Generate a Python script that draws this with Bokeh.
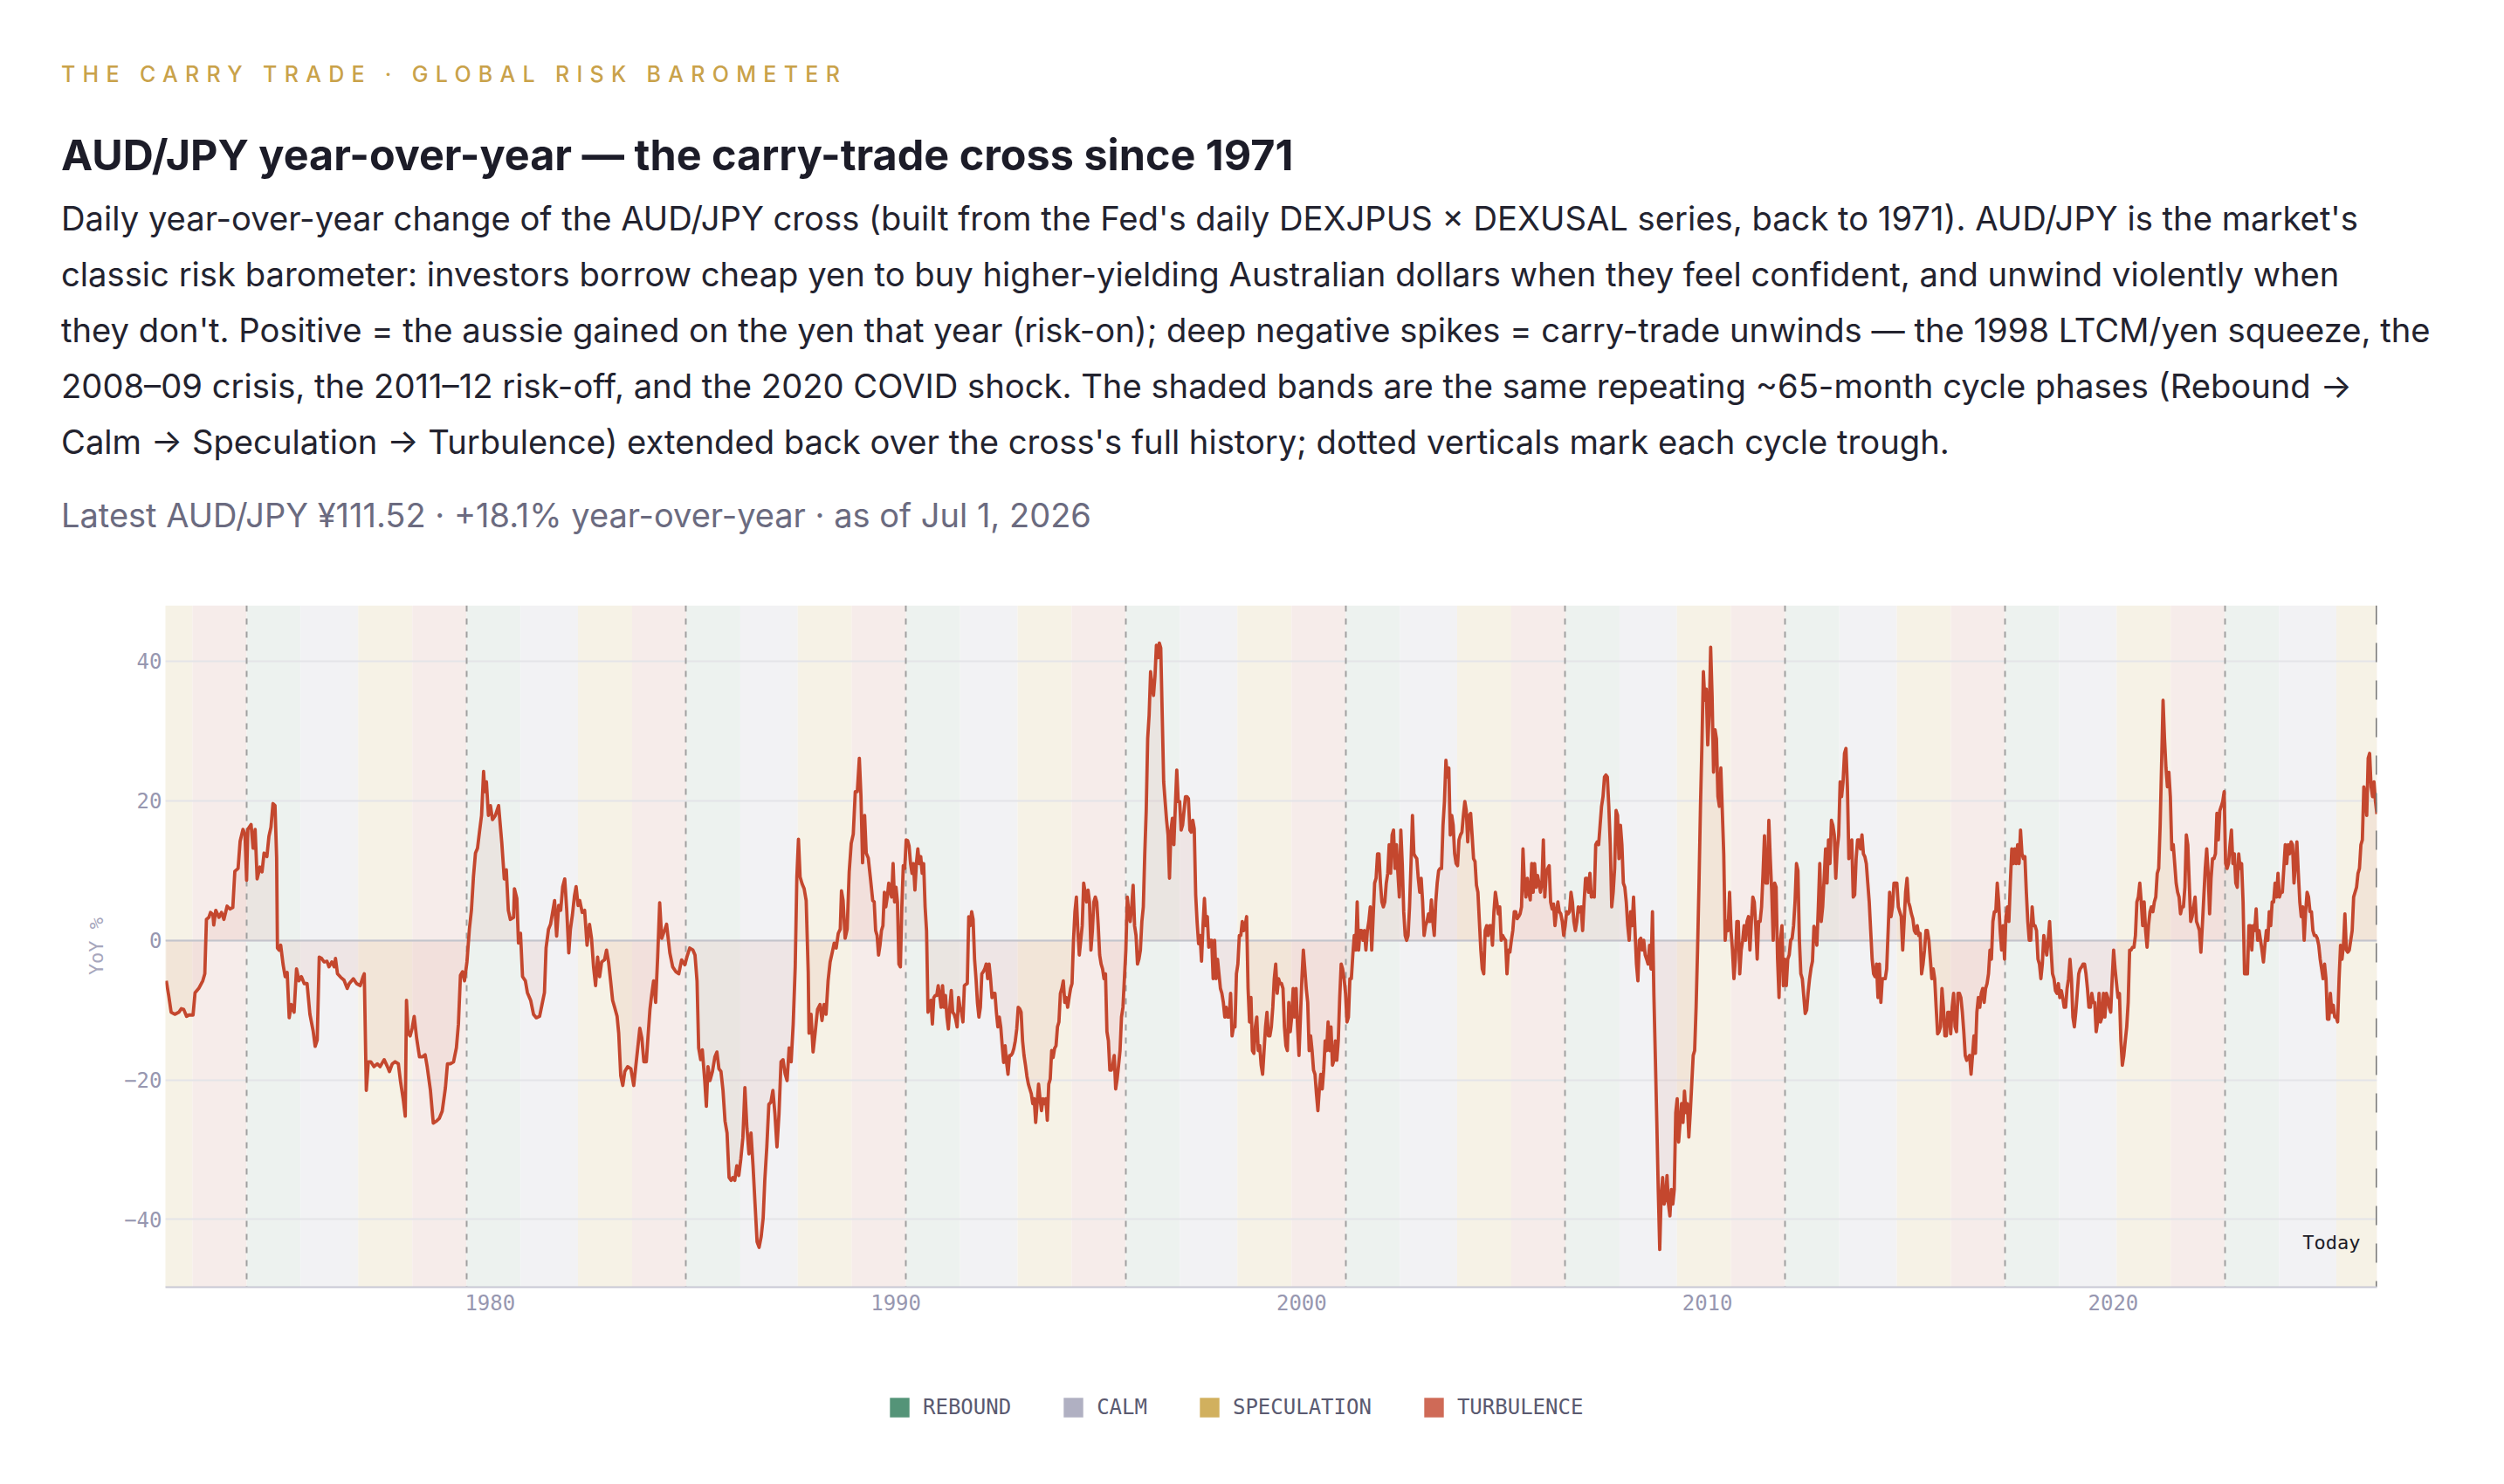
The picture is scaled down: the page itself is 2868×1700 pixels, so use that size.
import numpy as np
from bokeh.plotting import figure
from bokeh.models import (Range1d, FixedTicker, Label, Legend, LegendItem, Div,
                          ColumnDataSource, CustomJSTickFormatter)
from bokeh.layouts import column
from bokeh.embed import file_html
from bokeh.resources import INLINE

# ---------------------------------------------------------------- texts
EYEBROW = "THE CARRY TRADE · GLOBAL RISK BAROMETER"
TITLE = "AUD/JPY year-over-year — the carry-trade cross since 1971"
DESC_LINES = [
    "Daily year-over-year change of the AUD/JPY cross (built from the Fed's daily DEXJPUS × DEXUSAL series, back to 1971). AUD/JPY is the market's",
    "classic risk barometer: investors borrow cheap yen to buy higher-yielding Australian dollars when they feel confident, and unwind violently when",
    "they don't. Positive = the aussie gained on the yen that year (risk-on); deep negative spikes = carry-trade unwinds — the 1998 LTCM/yen squeeze, the",
    "2008–09 crisis, the 2011–12 risk-off, and the 2020 COVID shock. The shaded bands are the same repeating ~65-month cycle phases (Rebound →",
    "Calm → Speculation → Turbulence) extended back over the cross's full history; dotted verticals mark each cycle trough.",
]
LATEST = "Latest AUD/JPY ¥111.52 · +18.1% year-over-year · as of Jul 1, 2026"
Y_LABEL = "YoY %"
TODAY_LABEL = "Today"

# ---------------------------------------------------------------- axes / cycle data
X_TICKS = [1980, 1990, 2000, 2010, 2020]
Y_TICKS = [-40, -20, 0, 20, 40]
X_START, TODAY = 1972.0, 2026.5
Y_LO, Y_HI = -49.7, 48.0

TROUGH_MONTHS = ["1974-01", "1979-06", "1984-11", "1990-04", "1995-09",
                 "2001-02", "2006-07", "2011-12", "2017-05", "2022-10"]
PHASES = ["Rebound", "Calm", "Speculation", "Turbulence"]
PHASE_MONTHS = [16, 17, 16, 16]
PHASE_COLORS = ["#549478", "#b0b0c2", "#d1b05e", "#cf6a57"]
BAND_COLORS = ["#edf2ef", "#f2f2f4", "#f6f2e6", "#f6ecea"]

# ---------------------------------------------------------------- YoY series
# 1972 - 1989: irregularly read points (decimal year, YoY %)
SEG_A_YEARS = [
    1972.02, 1972.08, 1972.14, 1972.23, 1972.33, 1972.39, 1972.45, 1972.52, 1972.58, 1972.68,
    1972.73, 1972.82, 1972.92, 1972.97, 1973.01, 1973.07, 1973.11, 1973.17, 1973.19, 1973.24,
    1973.32, 1973.38, 1973.44, 1973.52, 1973.59, 1973.66, 1973.71, 1973.79, 1973.84, 1973.91,
    1973.96, 1974.00, 1974.03, 1974.11, 1974.16, 1974.21, 1974.26, 1974.33, 1974.38, 1974.43,
    1974.50, 1974.55, 1974.60, 1974.65, 1974.70, 1974.74, 1974.76, 1974.80, 1974.84, 1974.90,
    1974.95, 1975.00, 1975.05, 1975.10, 1975.17, 1975.23, 1975.29, 1975.35, 1975.42, 1975.49,
    1975.56, 1975.64, 1975.69, 1975.74, 1975.79, 1975.85, 1975.91, 1975.98, 1976.03, 1976.10,
    1976.16, 1976.19, 1976.24, 1976.32, 1976.40, 1976.48, 1976.53, 1976.63, 1976.71, 1976.80,
    1976.87, 1976.90, 1976.95, 1977.00, 1977.06, 1977.14, 1977.22, 1977.29, 1977.39, 1977.47,
    1977.52, 1977.59, 1977.66, 1977.74, 1977.79, 1977.86, 1977.91, 1977.94, 1977.98, 1978.03,
    1978.08, 1978.13, 1978.19, 1978.26, 1978.33, 1978.40, 1978.45, 1978.53, 1978.60, 1978.68,
    1978.75, 1978.82, 1978.90, 1978.95, 1979.02, 1979.10, 1979.17, 1979.22, 1979.27, 1979.32,
    1979.37, 1979.43, 1979.49, 1979.54, 1979.59, 1979.64, 1979.69, 1979.74, 1979.79, 1979.84,
    1979.87, 1979.91, 1979.96, 1980.01, 1980.06, 1980.13, 1980.21, 1980.29, 1980.35, 1980.40,
    1980.45, 1980.50, 1980.58, 1980.60, 1980.66, 1980.70, 1980.75, 1980.80, 1980.87, 1980.92,
    1981.00, 1981.07, 1981.14, 1981.22, 1981.28, 1981.34, 1981.38, 1981.44, 1981.49, 1981.54,
    1981.59, 1981.64, 1981.69, 1981.74, 1981.79, 1981.84, 1981.89, 1981.94, 1981.98, 1982.03,
    1982.08, 1982.12, 1982.17, 1982.21, 1982.27, 1982.33, 1982.39, 1982.45, 1982.50, 1982.55,
    1982.60, 1982.65, 1982.70, 1982.75, 1982.82, 1982.87, 1982.92, 1982.97, 1983.02, 1983.07,
    1983.13, 1983.17, 1983.22, 1983.27, 1983.32, 1983.39, 1983.47, 1983.54, 1983.59, 1983.64,
    1983.69, 1983.74, 1983.79, 1983.85, 1983.89, 1983.94, 1983.98, 1984.03, 1984.08, 1984.13,
    1984.18, 1984.23, 1984.31, 1984.35, 1984.43, 1984.50, 1984.58, 1984.65, 1984.72, 1984.80,
    1984.85, 1984.92, 1985.00, 1985.05, 1985.10, 1985.14, 1985.19, 1985.23, 1985.29, 1985.33,
    1985.37, 1985.42, 1985.48, 1985.54, 1985.59, 1985.64, 1985.69, 1985.74, 1985.79, 1985.84,
    1985.89, 1985.94, 1985.98, 1986.03, 1986.08, 1986.13, 1986.18, 1986.23, 1986.28, 1986.33,
    1986.38, 1986.43, 1986.48, 1986.53, 1986.58, 1986.63, 1986.68, 1986.73, 1986.77, 1986.82,
    1986.87, 1986.92, 1986.97, 1987.02, 1987.07, 1987.12, 1987.17, 1987.22, 1987.27, 1987.32,
    1987.37, 1987.42, 1987.47, 1987.52, 1987.56, 1987.60, 1987.64, 1987.69, 1987.74, 1987.79,
    1987.84, 1987.86, 1987.91, 1987.96, 1988.01, 1988.07, 1988.13, 1988.18, 1988.23, 1988.28,
    1988.33, 1988.38, 1988.43, 1988.48, 1988.53, 1988.58, 1988.63, 1988.66, 1988.70, 1988.75,
    1988.80, 1988.85, 1988.90, 1988.95, 1989.00, 1989.05, 1989.10, 1989.14, 1989.18, 1989.23,
    1989.27, 1989.32, 1989.37, 1989.43,
]
SEG_A_YOY = [
    -5.8, -7.9, -10.3, -10.6, -10.3, -9.8, -9.9, -10.9, -10.7, -10.7,
    -7.5, -6.9, -5.8, -4.8, 3.0, 3.3, 4.0, 3.7, 2.2, 4.3,
    3.3, 4.0, 3.0, 4.9, 4.5, 4.7, 9.9, 10.3, 14.2, 15.9,
    15.2, 8.6, 15.9, 16.6, 13.2, 15.9, 8.8, 10.5, 9.8, 12.5,
    12.0, 14.9, 16.2, 19.6, 19.3, 11.8, -1.1, -1.4, -0.7, -3.5,
    -5.2, -4.6, -11.1, -9.2, -10.3, -4.1, -5.8, -5.2, -6.2, -6.2,
    -10.6, -13.0, -15.2, -14.3, -2.4, -2.6, -3.1, -3.0, -3.8, -3.1,
    -3.8, -2.6, -4.8, -5.3, -5.7, -6.9, -6.2, -5.5, -6.2, -6.5,
    -5.2, -4.8, -21.5, -17.4, -17.4, -18.1, -17.7, -18.1, -17.1, -18.1,
    -18.8, -17.7, -17.4, -17.7, -20.1, -22.8, -25.2, -8.6, -13.3, -13.7,
    -12.6, -10.9, -14.0, -16.7, -16.7, -16.4, -18.1, -21.5, -26.2, -25.9,
    -25.5, -24.5, -21.1, -17.7, -17.7, -17.4, -15.4, -12.0, -5.0, -4.5,
    -5.8, -3.1, 1.6, 4.3, 9.1, 12.5, 13.2, 15.6, 17.9, 24.2,
    21.3, 22.7, 17.9, 19.3, 17.3, 17.9, 19.3, 13.9, 8.8, 10.1,
    4.3, 3.0, 3.3, 7.4, 6.0, -0.4, 1.0, -5.2, -5.8, -7.5,
    -8.6, -10.6, -11.1, -10.9, -9.2, -7.5, -1.1, 1.6, 2.3, 4.0,
    5.7, 0.6, 5.0, 4.3, 7.7, 8.8, 4.3, -1.8, 1.6, 3.7,
    6.4, 7.7, 5.0, 5.7, 4.0, 4.3, -0.7, 2.3, 0.3, -3.8,
    -6.5, -2.4, -5.2, -3.1, -2.8, -1.4, -3.1, -5.8, -8.6, -9.6,
    -10.9, -13.3, -19.4, -20.8, -18.8, -18.1, -18.4, -20.8, -18.1, -15.4,
    -12.6, -14.0, -17.4, -17.4, -14.0, -9.9, -7.9, -5.8, -8.9, -2.4,
    5.4, 0.3, 1.6, 2.3, -1.8, -3.8, -4.5, -4.8, -2.8, -3.5,
    -2.4, -1.1, -1.4, -2.1, -5.8, -15.4, -17.1, -15.7, -20.1, -23.8,
    -18.1, -20.1, -18.8, -16.7, -16.0, -18.4, -18.8, -21.5, -25.9, -27.6,
    -34.0, -34.4, -34.0, -34.4, -32.3, -33.7, -31.3, -28.3, -21.1, -26.9,
    -30.6, -27.6, -32.3, -37.8, -43.2, -44.0, -42.5, -39.8, -34.4, -29.6,
    -23.5, -23.2, -21.5, -24.9, -29.6, -24.9, -17.4, -17.1, -19.1, -20.1,
    -15.4, -17.4, -12.0, -3.8, 9.1, 14.5, 9.1, 8.1, 7.4, 5.7,
    -4.5, -13.3, -10.6, -16.0, -13.3, -9.9, -9.2, -11.5, -9.2, -10.6,
    -5.8, -3.1, -1.8, -0.4, -1.1, 1.0, 1.6, 7.1, 5.7, 0.3,
    1.6, 9.8, 13.9, 15.2, 21.3, 21.3, 26.1, 20.7, 11.1, 17.9,
    12.5, 11.8, 9.1, 5.7,
]

# 1989.5 onwards: readings taken every ~13 days (0.03585 yr) from each segment start
READ_STEP_YEARS = 0.03585
SEG_B_START = 1989.466
SEG_B_YOY = [
    5.5, 1.4, 0.7, -2.1, -0.7, 1.4, 2.1, 6.9, 4.8, 6.2,
    8.2, 6.9, 6.2, 11.0, 5.5, 7.6, 5.5, -3.4, -3.8, 4.8,
    10.7, 10.3, 14.4, 14.3, 13.5, 11.0, 9.6, 11.0, 7.2, 11.0,
    13.1, 11.0, 12.0, 9.6, 11.0, 4.8, 1.4, -10.3, -9.6, -8.6,
    -12.0, -8.2, -7.9, -7.9, -6.5, -7.9, -9.6, -6.5, -9.6, -7.9,
    -11.0, -12.7, -9.6, -7.2, -10.3, -10.6, -11.3, -12.4, -8.2, -9.6,
    -10.3, -11.7, -6.5, -6.3, -6.2, 3.4, 2.1, 4.1, 3.0, -2.7,
    -5.5, -9.0, -11.0, -9.6, -4.8, -4.5, -4.1, -3.4, -5.5, -3.4,
    -5.5, -8.2, -7.6, -7.6, -10.3, -12.4, -11.0, -12.4, -15.1, -17.5,
    -15.1, -17.5, -19.2, -16.5, -16.5, -16.2, -15.5, -14.4, -12.7, -9.6,
    -9.8, -10.3, -14.4, -16.5, -17.9, -19.5, -20.6, -21.3, -22.0, -23.4,
    -22.7, -26.1, -23.4, -20.6, -22.7, -24.4, -22.7, -23.4, -22.7, -25.8,
    -20.6, -19.9, -15.8, -16.8, -15.5, -15.1, -12.4, -11.7, -7.6, -6.9,
    -5.8, -8.9, -8.2, -9.6, -8.2, -6.9, -6.2, 0.0, 4.1, 6.2,
    1.4, -2.1, 0.0, 2.1, 8.2, 6.9, 5.5, 7.2, 5.5, -1.4,
    1.4, 5.5, 6.2, 5.5, 2.1, -2.1, -3.4, -4.1, -5.5, -4.8,
    -13.1, -14.4, -18.6, -18.6, -17.9, -16.5, -21.3, -19.9, -17.9, -15.8,
    -11.0, -9.6, -5.5, -1.4, 6.2, 4.1, 2.7, 4.8, 7.9, 2.1,
    0.7, -3.4, -2.7, -1.4, 2.7, 4.8, 12.4, 18.6, 28.9, 32.3,
    38.5, 36.4, 35.1, 37.8, 42.3, 40.5, 42.6, 41.9, 32.3, 22.7,
    19.9, 17.2, 15.1, 8.9, 15.8, 17.5, 13.7, 19.2, 24.4, 19.9,
    19.9, 15.8, 16.5, 18.6, 20.6, 20.6,
]
SEG_C_START = 1997.210
SEG_C_YOY = [
    20.3, 15.8, 15.5, 17.2, 16.0, 6.5, 2.5, -0.5, 0.7, -3.0,
    2.0, 6.0, 2.1, 3.4, -1.0, 0.0, 0.0, -5.5, 0.0, -5.5,
    -2.7, -4.8, -6.9, -7.6, -8.9, -11.0, -9.6, -11.0, -11.0, -7.6,
    -13.7, -12.4, -12.4, -4.8, -3.4, 0.7, 0.7, 2.7, 1.4, 2.1,
    3.4, -6.9, -11.7, -8.2, -15.8, -16.2, -12.4, -11.0, -15.8, -15.1,
    -17.9, -19.2, -15.8, -12.4, -10.3, -13.7, -13.7, -12.4, -9.6, -5.5,
    -3.4, -7.6, -5.5, -6.2, -6.2, -6.9, -12.4, -15.1, -15.8, -8.9,
    -13.1, -11.0, -6.9, -11.0, -6.9, -12.4, -16.5, -11.0, -5.5, -1.4,
    -4.1, -6.9, -8.9, -15.8, -13.7, -15.8, -18.6, -19.2, -22.0, -24.4,
    -21.3, -19.2, -21.3, -18.6, -14.4, -15.8, -11.7, -15.8, -12.4, -17.9,
    -17.2, -14.4, -17.2, -14.4, -8.2, -3.4, -4.1, -5.5, -7.6, -11.7,
    -11.0, -5.5, -5.5, -2.1, 0.7, -1.4, 5.5, -1.4, 1.4, 1.4,
    0.0, 1.4, -1.4, 1.4, 2.7, 4.8, -1.4, 3.4, 8.2, 8.9,
    12.4, 12.4, 8.2, 5.5, 4.8, 5.5, 8.2, 9.6, 13.7, 9.6,
    15.1, 15.8, 10.3, 13.7, 9.6, 6.2, 15.8, 11.0, 4.1, 0.7,
    0.0, 0.7, 4.8, 11.0, 17.9, 12.4, 12.0, 11.7, 8.9, 6.9,
    8.9, 5.5, 0.7, 2.1, 2.7, 3.8, 2.7, 5.8, 2.7, 0.7,
    5.5, 8.2, 10.0, 10.3, 10.3, 16.5, 19.9, 25.8, 23.4, 24.7,
    15.1, 17.9, 16.5, 12.4, 11.0, 10.7, 14.4, 15.1, 15.5, 17.9,
    19.9, 18.6, 14.1, 17.9, 18.2, 15.1, 11.7, 11.3, 7.9, 6.9,
    2.7, -1.4, -4.1, -4.8, 1.4, 2.1, 0.7, 2.1, 2.1, -0.7,
    4.1, 6.9, 5.5, 3.8, 4.8, 0.0,
]
SEG_D_START = 2004.953
SEG_D_YOY = [
    0.7, 0.3, 0.0, -4.8, -1.4, -1.7, 0.0, 1.4, 4.1, 4.1,
    3.1, 3.4, 3.8, 4.8, 13.1, 8.2, 6.2, 8.9, 6.9, 5.8,
    11.0, 6.9, 11.0, 7.6, 9.3, 8.2, 6.9, 8.2, 14.4, 6.2,
    9.6, 10.3, 10.7, 5.5, 4.5, 5.2, 2.1, 4.1, 5.5, 4.1,
    3.8, 2.7, 0.7, 2.1, 4.1, 3.8, 4.1, 6.9, 5.5, 2.7,
    1.4, 2.7, 4.8, 4.1, 4.8, 1.4, 5.5, 8.9, 8.9, 6.9,
    9.6, 6.2, 6.9, 6.2, 13.7, 14.1, 13.7, 16.5, 19.2, 20.6,
    23.4, 23.7, 23.4, 19.2, 13.7, 4.8, 6.9, 10.3, 18.6, 17.9,
    11.7, 16.5, 13.7, 8.2, 7.6, 5.5, 2.1, 0.0, 4.1, 2.1,
    6.2, 1.4, -3.4, -5.8, 0.0, 0.3, -1.4, 0.0, -2.1, -2.7,
    -3.4, -0.7, -4.1, 4.1, -8.0, -17.0, -26.1, -36.0, -44.3, -36.5,
    -34.0, -37.8, -37.1, -33.7, -37.8, -39.5, -35.7, -37.8, -35.7, -24.7,
    -22.7, -28.9, -26.1, -23.4, -26.1, -21.6, -24.7, -23.4, -28.2, -24.7,
    -20.6, -16.5, -15.8, -9.6, -1.4, 8.2, 19.2, 28.0, 38.5, 34.4,
    36.0, 28.0, 32.3, 42.0, 35.0, 24.1, 30.2, 28.9, 20.6, 19.2,
    24.7, 18.6, 12.4, 0.0, 2.7, 1.4, 6.9, 1.4, -1.4, -5.5,
    -2.7, 2.7, 2.7, -4.8, -1.4, 0.0, 2.1, 0.0, 2.7, 3.4,
    -1.4, 2.7, 6.2, 5.5, 2.1, -2.7, 2.7, 2.7, 4.8, 9.6,
    15.0, 8.2, 8.2, 17.2, 11.7, 6.9, 0.0, 8.2, 7.6, -2.7,
    -8.2, 0.0, 2.1, -6.5, -2.7, -6.5, -2.7, -2.1, 0.0, 0.3,
    2.1, 5.5, 11.0, 10.0, 0.0, -4.8, -5.5, -8.0, -10.5, -10.0,
    -7.5, -5.5, -4.0, -3.0, 2.0, 1.4,
]
SEG_E_START = 2012.697
SEG_E_YOY = [
    -0.7, 4.8, 11.0, 2.7, 4.8, 8.9, 13.1, 8.2, 14.4, 11.0,
    17.2, 16.5, 15.1, 8.9, 13.1, 15.1, 22.7, 20.6, 22.7, 26.8,
    27.5, 22.0, 11.7, 12.4, 14.4, 6.2, 6.5, 11.7, 14.4, 14.4,
    13.1, 15.1, 12.4, 12.0, 11.0, 8.2, 5.5, 1.4, -2.7, -4.8,
    -5.2, -3.4, -8.2, -3.4, -8.9, -5.5, -5.5, -5.5, -4.1, 1.4,
    6.9, 3.4, 4.8, 8.2, 8.2, 8.2, 4.8, 4.1, 3.4, -1.4,
    2.7, 6.9, 8.9, 5.5, 4.8, 3.8, 3.1, 1.4, 1.0, 2.1,
    0.7, 1.0, -4.8, -3.4, -1.4, 1.4, 1.4, 0.0, -2.7, -5.5,
    -4.1, -5.5, -9.6, -13.4, -13.1, -12.4, -6.9, -9.6, -13.7, -13.7,
    -10.3, -10.3, -13.4, -9.6, -7.6, -12.4, -13.1, -7.6, -7.6, -8.2,
    -10.3, -13.1, -16.5, -17.2, -16.8, -16.5, -19.2, -16.5, -13.7, -16.2,
    -10.3, -8.2, -9.6, -7.6, -6.9, -8.9, -6.9, -6.2, -4.8, -1.4,
    -2.7, 2.7, 4.1, 4.1, 8.2, 5.5, 1.4, -1.4, 2.1, -2.7,
    3.4, 4.8, 2.7, 8.2, 13.1, 11.0, 13.1, 11.0, 13.7, 11.0,
    15.8, 12.4, 11.7, 12.0, 6.9, 2.7, 0.0, 0.0, 4.8, 2.1,
    2.1, 1.4, -2.7, -3.4, -5.5, -3.4, 0.7, -0.7, -2.1, 0.0,
    2.7, -1.4, -4.8, -5.5, -7.2, -7.6, -6.2, -8.2, -7.2, -8.2,
    -9.6, -9.6, -6.9, -5.5, -2.7, -5.5, -11.0, -12.4, -10.3, -7.6,
    -4.8, -4.1, -3.8, -3.4, -3.4, -4.8, -6.9, -9.6, -9.6, -7.6,
    -8.9, -8.9, -13.1, -11.7, -7.6, -11.7, -11.0, -7.6, -11.0, -7.6,
    -8.2, -9.6, -10.3, -5.5, -1.4, -4.1, -6.2, -8.2, -7.6, -14.4,
    -17.9, -16.5, -14.4, -12.4, -8.9, -1.4,
]
SEG_F_START = 2020.440
SEG_F_YOY = [
    -1.4, -1.0, -1.0, 0.7, 5.5, 6.2, 8.2, 5.5, 2.1, 5.5,
    1.4, -1.0, 2.1, 4.1, 4.8, 4.1, 5.5, 6.2, 9.6, 10.3,
    16.5, 25.4, 34.4, 28.9, 24.7, 22.0, 24.1, 20.6, 13.0, 13.7,
    11.0, 8.2, 6.9, 6.2, 3.8, 4.8, 4.8, 7.6, 15.1, 13.7,
    8.2, 2.7, 3.4, 4.8, 6.2, 2.7, 2.1, 1.4, -1.7, 2.1,
    6.2, 10.3, 13.1, 9.6, 3.8, 8.9, 11.7, 11.7, 12.4, 18.2,
    14.4, 18.6, 19.2, 19.9, 21.3, 11.0, 10.3, 11.0, 13.7, 15.8,
    11.0, 12.4, 8.2, 7.6, 12.4, 10.3, 11.0, 5.5, -4.8, -4.8,
    -4.8, 2.1, 2.1, -1.4, 2.1, 1.4, 4.5, 0.0, 1.4, 0.0,
    -1.4, -3.1, -0.7, 1.4, 0.0, 4.1, 2.1, 5.5, 5.5, 8.2,
    6.2, 9.6, 6.2, 6.9, 6.9, 10.3, 13.7, 11.0, 13.7, 12.4,
    14.1, 13.7, 8.2, 11.0, 14.1, 9.6, 5.5, 3.4, 4.8, 0.0,
    4.1, 6.9, 6.2, 4.1, 4.1, 1.4, 0.7, 0.7, 0.3, -0.7,
    -2.7, -4.1, -5.5, -3.4, -5.5, -11.3, -11.3, -7.6, -10.3, -9.3,
    -11.0, -11.0, -11.7, -5.5, -0.7, -2.7, -0.7, 3.8, -1.4, -1.7,
    -1.4, 0.0, 1.4, 6.2, 6.9, 7.6, 9.6, 10.3, 13.7, 14.4,
    22.0, 20.6, 17.9, 26.1, 26.8, 22.0, 20.6, 22.7, 19.9, 18.1,
]

# ---------------------------------------------------------------- styling constants
LINE_COLOR = "#c4472e"
INK = "#1c1c28"
MUTED = "#9797b0"
FONT_MONO = "DejaVu Sans Mono"

# ---------------------------------------------------------------- assemble series
def regular(start, values):
    return start + READ_STEP_YEARS * np.arange(len(values))

x_all = np.concatenate([np.array(SEG_A_YEARS),
                        regular(SEG_B_START, SEG_B_YOY),
                        regular(SEG_C_START, SEG_C_YOY),
                        regular(SEG_D_START, SEG_D_YOY),
                        regular(SEG_E_START, SEG_E_YOY),
                        regular(SEG_F_START, SEG_F_YOY)])
y_all = np.concatenate([SEG_A_YOY, SEG_B_YOY, SEG_C_YOY, SEG_D_YOY, SEG_E_YOY, SEG_F_YOY])
series = ColumnDataSource(dict(x=x_all, y=y_all))

# cycle phase bands
def month_to_year(s):
    yr, mo = s.split("-")
    return int(yr) + (int(mo) - 1) / 12.0

trough_years = [month_to_year(s) for s in TROUGH_MONTHS]
cycle_years = sum(PHASE_MONTHS) / 12.0
cycle_starts = [trough_years[0] - cycle_years] + trough_years
b_left, b_right, b_color = [], [], []
for start in cycle_starts:
    edge = start
    for months, col in zip(PHASE_MONTHS, BAND_COLORS):
        b_left.append(edge)
        edge = edge + months / 12.0
        b_right.append(min(edge, TODAY))
        b_color.append(col)
bands = ColumnDataSource(dict(left=b_left, right=b_right, color=b_color))

# ---------------------------------------------------------------- main figure
p = figure(frame_width=2533, frame_height=781,
           x_range=Range1d(X_START, TODAY), y_range=Range1d(Y_LO, Y_HI),
           output_backend="svg", toolbar_location=None,
           min_border_left=189, min_border_right=30, min_border_top=43, min_border_bottom=60,
           background_fill_color="white", border_fill_color="white",
           outline_line_color=None)

p.quad(left="left", right="right", bottom=Y_LO, top=Y_HI, fill_color="color",
       line_color=None, source=bands, level="image")
p.varea(x="x", y1=0, y2="y", source=series, fill_color=LINE_COLOR, fill_alpha=0.07)
p.hspan(y=[0], line_color="#c4c4cb", line_width=2)
p.vspan(x=trough_years, line_color="#a0a0a0", line_width=2, line_dash="7 8")
p.line(x="x", y="y", source=series, line_color=LINE_COLOR, line_width=3.8, line_join="round")
p.vspan(x=[TODAY], line_color="#777777", line_width=3, line_dash="22 21")

p.add_layout(Label(x=TODAY, y=-43.3, x_offset=-19, text=TODAY_LABEL, text_align="right",
                   text_baseline="middle", text_font=FONT_MONO, text_font_size="22px",
                   text_color=INK))

p.xaxis.ticker = FixedTicker(ticks=X_TICKS)
p.yaxis.ticker = FixedTicker(ticks=Y_TICKS)
p.yaxis.formatter = CustomJSTickFormatter(
    code="return tick < 0 ? '\\u2212' + Math.abs(tick) : String(tick);")
for ax in (p.xaxis[0], p.yaxis[0]):
    ax.major_label_text_font = FONT_MONO
    ax.major_label_text_font_size = "24px"
    ax.major_label_text_color = MUTED
    ax.major_tick_line_color = None
    ax.minor_tick_line_color = None
    ax.major_tick_out = 0
    ax.major_tick_in = 0
p.xaxis.axis_line_color = "#c8c8d4"
p.xaxis.axis_line_width = 2
p.xaxis.major_label_standoff = 8
p.yaxis.axis_line_color = None
p.yaxis.major_label_standoff = 4
p.yaxis.axis_label = Y_LABEL
p.yaxis.axis_label_text_font = FONT_MONO
p.yaxis.axis_label_text_font_size = "22px"
p.yaxis.axis_label_text_font_style = "normal"
p.yaxis.axis_label_text_color = "#a6a6bc"
p.yaxis.axis_label_standoff = 16
p.xgrid.grid_line_color = None
p.ygrid.grid_line_color = "#e4e4e8"
p.ygrid.grid_line_width = 2

# ---------------------------------------------------------------- legend strip (own figure)
leg = figure(width=2836, height=156, x_range=Range1d(0, 1), y_range=Range1d(0, 1),
             output_backend="svg", toolbar_location=None, min_border=0,
             background_fill_color="white", border_fill_color="white",
             outline_line_color=None)
leg.axis.visible = False
leg.grid.visible = False
items = []
for name, col in zip(PHASES, PHASE_COLORS):
    # legend proxy: one undrawn (NaN) swatch per phase colour
    r = leg.quad(left=[np.nan], right=[np.nan], bottom=[np.nan], top=[np.nan],
                 fill_color=col, line_color=None)
    items.append(LegendItem(label=name.upper(), renderers=[r]))
legend = Legend(items=items, orientation="horizontal", location=(827, 64),
                label_text_font=FONT_MONO, label_text_font_size="24px",
                label_text_color="#5a5a70", glyph_width=28, glyph_height=28,
                label_standoff=13, spacing=57, padding=0, margin=0,
                border_line_color=None, background_fill_alpha=0)
leg.add_layout(legend)

# ---------------------------------------------------------------- header
desc_html = "<br>".join(DESC_LINES)
header_html = f"""
<div style="position:relative;width:2800px;height:640px;font-family:Inter,'Noto Sans',sans-serif;">
  <div style="position:absolute;left:65px;top:68px;font-size:25px;line-height:25px;letter-spacing:8.3px;color:#c9a24a;font-weight:500;white-space:nowrap;">{EYEBROW}</div>
  <div style="position:absolute;left:65px;top:145px;font-size:48.5px;line-height:56px;font-weight:700;color:{INK};white-space:nowrap;">{TITLE}</div>
  <div style="position:absolute;left:65px;top:213px;font-size:38.2px;line-height:64px;color:#23232f;white-space:nowrap;">{desc_html}</div>
  <div style="position:absolute;left:65px;top:553px;font-size:38px;line-height:64px;color:#6b6b80;white-space:nowrap;">{LATEST}</div>
</div>
"""
header = Div(text=header_html, width=2800, height=640)

layout = column(header, p, leg)
open("out.html", "w", encoding="utf-8").write(file_html(layout, INLINE, title="AUD/JPY year-over-year"))
